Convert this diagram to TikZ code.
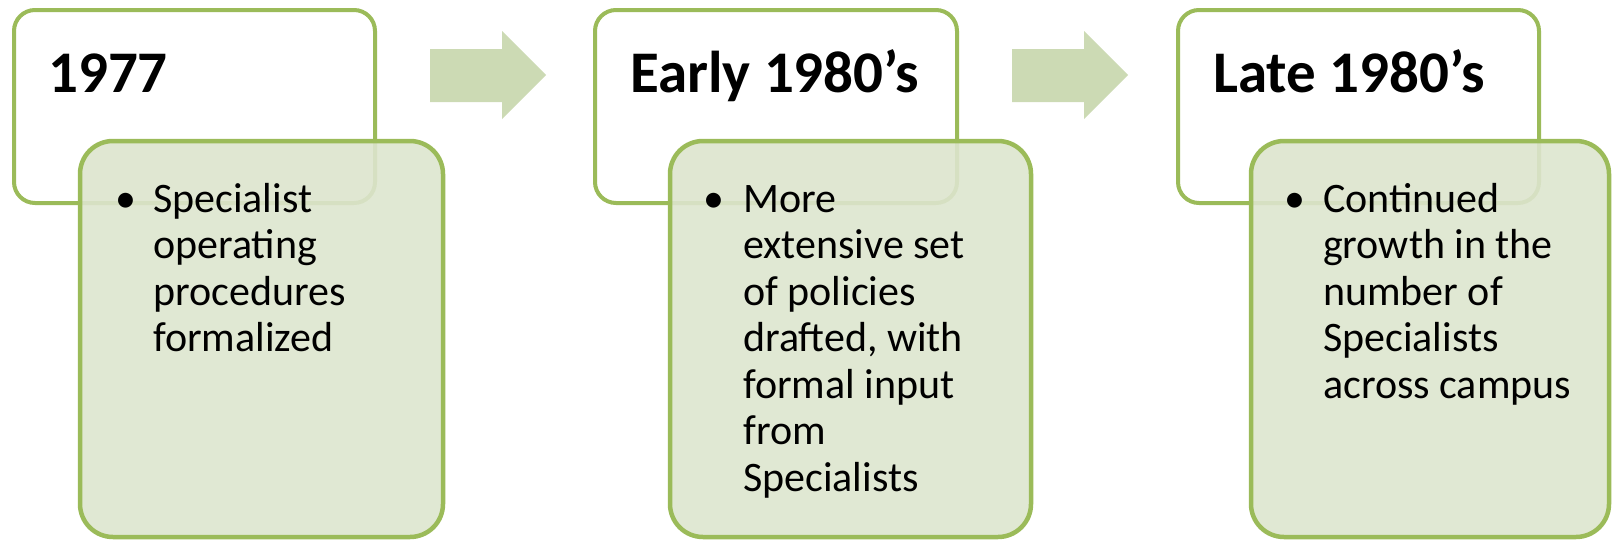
\documentclass[tikz,border=0pt]{standalone}
\usepackage{fontspec}
\setmainfont{Carlito}
\definecolor{grnline}{HTML}{9BBB59}
\definecolor{grnfill}{RGB}{221,229,206}
\definecolor{arrfill}{HTML}{CCDAB4}
\newcommand{\lines}[1]{\vtop{\halign{##\hfil\cr#1\crcr}}}
\begin{document}
\begin{tikzpicture}[x=1pt,y=-1pt,
  topbox/.style={draw=grnline,line width=4pt,rounded corners=21pt,fill=white},
  lowbox/.style={draw=grnline,line width=4.5pt,rounded corners=33pt,fill=grnfill,fill opacity=0.9},
  title/.style={anchor=base west,inner sep=0pt,font=\fontsize{59}{70}\selectfont\bfseries},
  body/.style={anchor=base west,inner sep=0pt,font=\fontsize{42}{46.5}\selectfont},
  bul/.style={anchor=base,inner sep=0pt,font=\fontsize{42}{46.5}\selectfont},
  arr/.style={fill=arrfill,draw=none}]
\useasboundingbox (0,0) rectangle (1612,541);

% arrows
\fill[arr] (430,49) -- (502,49) -- (502,31) -- (546,75) -- (502,119) -- (502,102) -- (430,102) -- cycle;
\fill[arr] (1012,49) -- (1084,49) -- (1084,31) -- (1128,75) -- (1084,119) -- (1084,102) -- (1012,102) -- cycle;

% column 1
\draw[topbox] (14,10) rectangle (375,203);
\node[title] (t1) at (48,92) {1977};
\draw[lowbox] (80,141) rectangle (443,537);
\node[bul] (b1) at (126,212) {•};
\node[body] (d1) at (153,212) {\lines{Specialist\cr operating\cr procedures\cr formalized}};

% column 2
\draw[topbox] (595,10) rectangle (957,203);
\node[title] (t2) at (630,92) {Early 1980’s};
\draw[lowbox] (670,141) rectangle (1031,537);
\node[bul] (b2) at (714,212) {•};
\node[body] (d2) at (743,212) {\lines{More\cr extensive set\cr of policies\cr drafted, with\cr formal input\cr from\cr Specialists}};

% column 3
\draw[topbox] (1178,10) rectangle (1539,203);
\node[title] (t3) at (1213,92) {Late 1980’s};
\draw[lowbox] (1251,141) rectangle (1609,537);
\node[bul] (b3) at (1295,212) {•};
\node[body] (d3) at (1323,212) {\lines{Continued\cr growth in the\cr number of\cr Specialists\cr across campus}};
\end{tikzpicture}
\end{document}
